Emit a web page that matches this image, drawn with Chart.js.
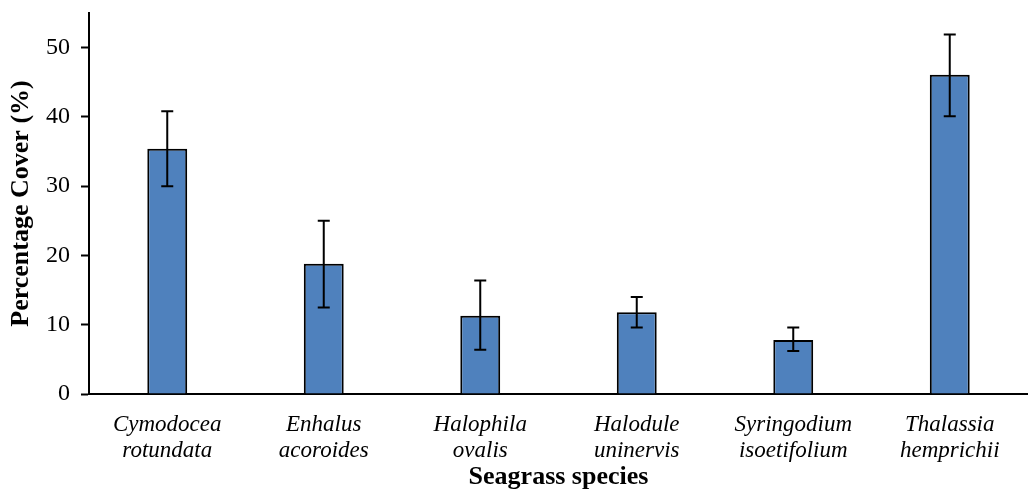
<!DOCTYPE html>
<html>
<head>
<meta charset="utf-8">
<script src="https://cdn.jsdelivr.net/npm/chart.js@4.4.1/dist/chart.umd.min.js"></script>
<style>
  html, body { margin: 0; padding: 0; background: #fff; }
  #wrap { width: 1028px; height: 493px; }
</style>
</head>
<body>
<div id="wrap"><canvas id="c" width="1028" height="493"></canvas></div>
<script>
// Seagrass species (two-line labels)
const categories = [
  ['Cymodocea', 'rotundata'],
  ['Enhalus', 'acoroides'],
  ['Halophila', 'ovalis'],
  ['Halodule', 'uninervis'],
  ['Syringodium', 'isoetifolium'],
  ['Thalassia', 'hemprichii']
];
// Mean percentage cover
const coverMean = [35.4, 18.8, 11.3, 11.8, 7.8, 46.1];
// Error bar limits (lower / upper)
const errLow  = [30.0, 12.5, 6.4, 9.6, 6.2, 40.1];
const errHigh = [40.8, 25.0, 16.4, 14.0, 9.6, 51.9];
// Y-axis tick values
const yTicks = [0, 10, 20, 30, 40, 50];

const serif = "'Liberation Serif', 'Times New Roman', serif";

// Draws vertical error bars with caps, positioned through the chart scales
const errorBars = {
  id: 'errorBars',
  afterDatasetsDraw(chart) {
    const { ctx, scales: { x, y } } = chart;
    ctx.save();
    ctx.strokeStyle = '#000';
    ctx.lineWidth = 2;
    const cap = 6;
    coverMean.forEach((v, i) => {
      const px = x.getPixelForValue(i);
      const yl = y.getPixelForValue(errLow[i]);
      const yh = y.getPixelForValue(errHigh[i]);
      ctx.beginPath();
      ctx.moveTo(px, yl); ctx.lineTo(px, yh);
      ctx.moveTo(px - cap, yh); ctx.lineTo(px + cap, yh);
      ctx.moveTo(px - cap, yl); ctx.lineTo(px + cap, yl);
      ctx.stroke();
    });
    ctx.restore();
  }
};

new Chart(document.getElementById('c'), {
  type: 'bar',
  data: {
    labels: categories,
    datasets: [{
      data: coverMean,
      backgroundColor: '#4F81BD',
      borderColor: '#000',
      borderWidth: 2,
      categoryPercentage: 1,
      barPercentage: 0.255
    }]
  },
  options: {
    responsive: false,
    animation: false,
    layout: { padding: { top: 13, right: 0, left: 0, bottom: 0 } },
    plugins: { legend: { display: false }, tooltip: { enabled: false } },
    scales: {
      x: {
        grid: { display: false },
        border: { display: true, color: '#000', width: 2 },
        ticks: {
          color: '#000',
          font: { family: serif, size: 23, style: 'italic', lineHeight: 1.17 },
          padding: 9,
          maxRotation: 0,
          autoSkip: false
        },
        title: {
          display: true,
          text: 'Seagrass species',
          color: '#000',
          font: { family: serif, size: 26, weight: 'bold' },
          padding: { top: 0, bottom: 0 }
        },
        afterFit(s) { s.height = 99; s.paddingLeft = 0; s.paddingRight = 0; }
      },
      y: {
        min: 0,
        max: 55,
        afterBuildTicks(s) { s.ticks = yTicks.map(v => ({ value: v })); },
        grid: {
          display: true,
          drawOnChartArea: false,
          drawTicks: true,
          tickLength: 8,
          tickWidth: 2,
          color: '#000'
        },
        border: { display: true, color: '#000', width: 2 },
        ticks: {
          color: '#000',
          font: { family: serif, size: 24 },
          padding: 11
        },
        title: {
          display: true,
          text: 'Percentage Cover (%)',
          color: '#000',
          font: { family: serif, size: 26, weight: 'bold' },
          padding: { top: 6, bottom: 4 }
        },
        afterFit(s) { s.width = 89; s.paddingTop = 0; s.paddingBottom = 0; }
      }
    }
  },
  plugins: [errorBars]
});
</script>
</body>
</html>
